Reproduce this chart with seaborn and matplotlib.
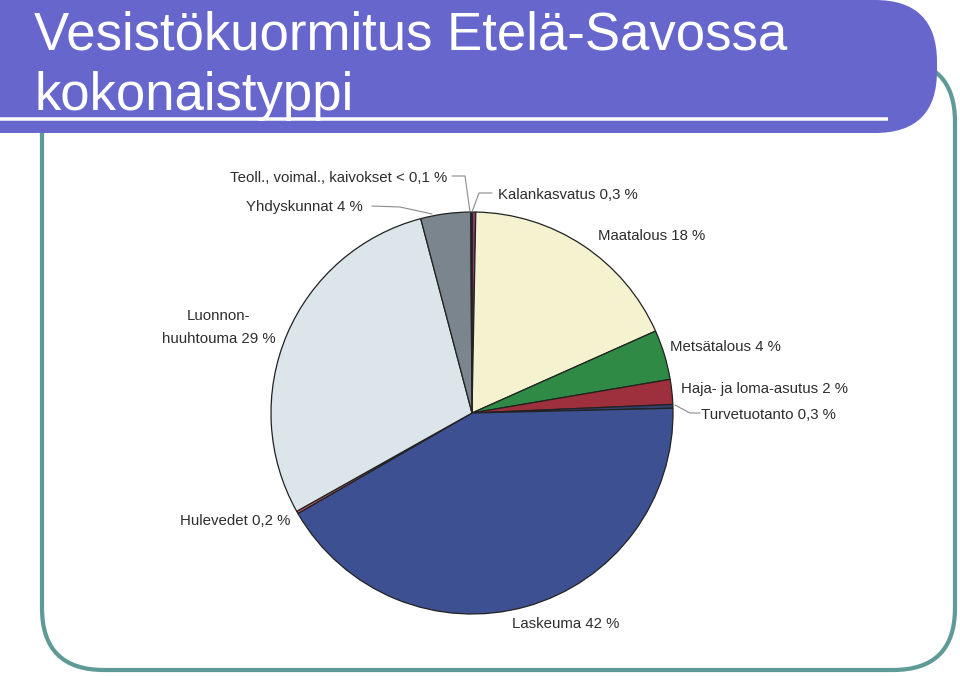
import matplotlib
matplotlib.use("Agg")
import matplotlib.pyplot as plt
from matplotlib.patches import FancyBboxPatch
import seaborn as sns

# Nutrient load (total nitrogen) shares by source, clockwise from 12 o'clock
sources = [
    "Kalankasvatus", "Maatalous", "Metsätalous", "Haja- ja loma-asutus",
    "Turvetuotanto", "Laskeuma", "Hulevedet", "Luonnonhuuhtouma",
    "Yhdyskunnat", "Teoll., voimal., kaivokset",
]
shares = [0.3, 18, 4, 2, 0.3, 42, 0.2, 29, 4, 0.1]
labels = [
    "Kalankasvatus 0,3 %", "Maatalous 18 %", "Metsätalous 4 %",
    "Haja- ja loma-asutus 2 %", "Turvetuotanto 0,3 %", "Laskeuma 42 %",
    "Hulevedet 0,2 %", "Luonnon-\nhuuhtouma 29 %", "Yhdyskunnat 4 %",
    "Teoll., voimal., kaivokset < 0,1 %",
]
colors = [
    "#8a3a70", "#f4f2cf", "#2f8a45", "#9e2f3c", "#34406e",
    "#3d5192", "#c0586a", "#dbe5ea", "#7a858e", "#5a3a5a",
]
title_lines = ["Vesistökuormitus Etelä-Savossa", "kokonaistyppi"]

sns.set_theme(style="white")
plt.rcParams["font.family"] = ["Liberation Sans", "DejaVu Sans"]

W, H = 960, 676
fig = plt.figure(figsize=(W / 100, H / 100), dpi=100)
ax = fig.add_axes([0, 0, 1, 1])


def py(y):
    # convert a top-down pixel row to axis y
    return H - y


px2pt = 72 / 100

# Pie chart
cx, cy, r = 472, py(413), 201
ax.pie(shares, colors=colors, startangle=90, counterclock=False,
       center=(cx, cy), radius=r, frame=True,
       wedgeprops=dict(edgecolor="#222222", linewidth=0.9))
ax.set_xlim(0, W)
ax.set_ylim(0, H)
ax.set_aspect("equal")
ax.axis("off")

# Teal rounded slide frame
frame = FancyBboxPatch((42, py(670)), 955 - 42, 670 - 60,
                       boxstyle="round,pad=0,rounding_size=62",
                       facecolor="none", edgecolor="#5f9b96",
                       linewidth=4.2 * px2pt, zorder=1)
ax.add_patch(frame)

# Purple title banner with rounded right end
banner = FancyBboxPatch((-200, py(133)), 937 + 200, 133,
                        boxstyle="round,pad=0,rounding_size=62",
                        facecolor="#6666cc", edgecolor="none", zorder=3)
ax.add_patch(banner)
ax.plot([0, 888], [py(119), py(119)], color="white",
        linewidth=3.5 * px2pt, solid_capstyle="butt", zorder=4)

title_font = ["Liberation Sans Narrow", "Liberation Sans", "DejaVu Sans"]
ax.text(34, py(50), title_lines[0], color="white", fontsize=38,
        va="baseline", ha="left", zorder=5, family=title_font)
ax.text(34, py(110), title_lines[1], color="white", fontsize=38,
        va="baseline", ha="left", zorder=5, family=title_font)

# Labels placed around the pie (left x, baseline y in pixel rows)
txt = dict(fontsize=10.8, color="#2e2e2e", zorder=6)
ax.text(498, py(199), labels[0], ha="left", **txt)
ax.text(598, py(240), labels[1], ha="left", **txt)
ax.text(670, py(351), labels[2], ha="left", **txt)
ax.text(681, py(393), labels[3], ha="left", **txt)
ax.text(701, py(419), labels[4], ha="left", **txt)
ax.text(512, py(628), labels[5], ha="left", **txt)
ax.text(180, py(525), labels[6], ha="left", **txt)
ax.text(219, py(320), "Luonnon-", ha="center", **txt)
ax.text(219, py(343), "huuhtouma 29 %", ha="center", **txt)
ax.text(246, py(211), labels[8], ha="left", **txt)
ax.text(230, py(182), labels[9], ha="left", **txt)

# Leader lines
lc = dict(color="#8a8a8a", linewidth=0.8, zorder=5)
ax.plot([452, 465, 470], [py(176), py(176), py(212)], **lc)
ax.plot([472, 479, 492], [py(212), py(193), py(193)], **lc)
ax.plot([372, 400, 432], [py(206), py(207), py(214)], **lc)
ax.plot([675, 690, 700], [py(405), py(413), py(413)], **lc)

fig.savefig("out.png", dpi=100)
